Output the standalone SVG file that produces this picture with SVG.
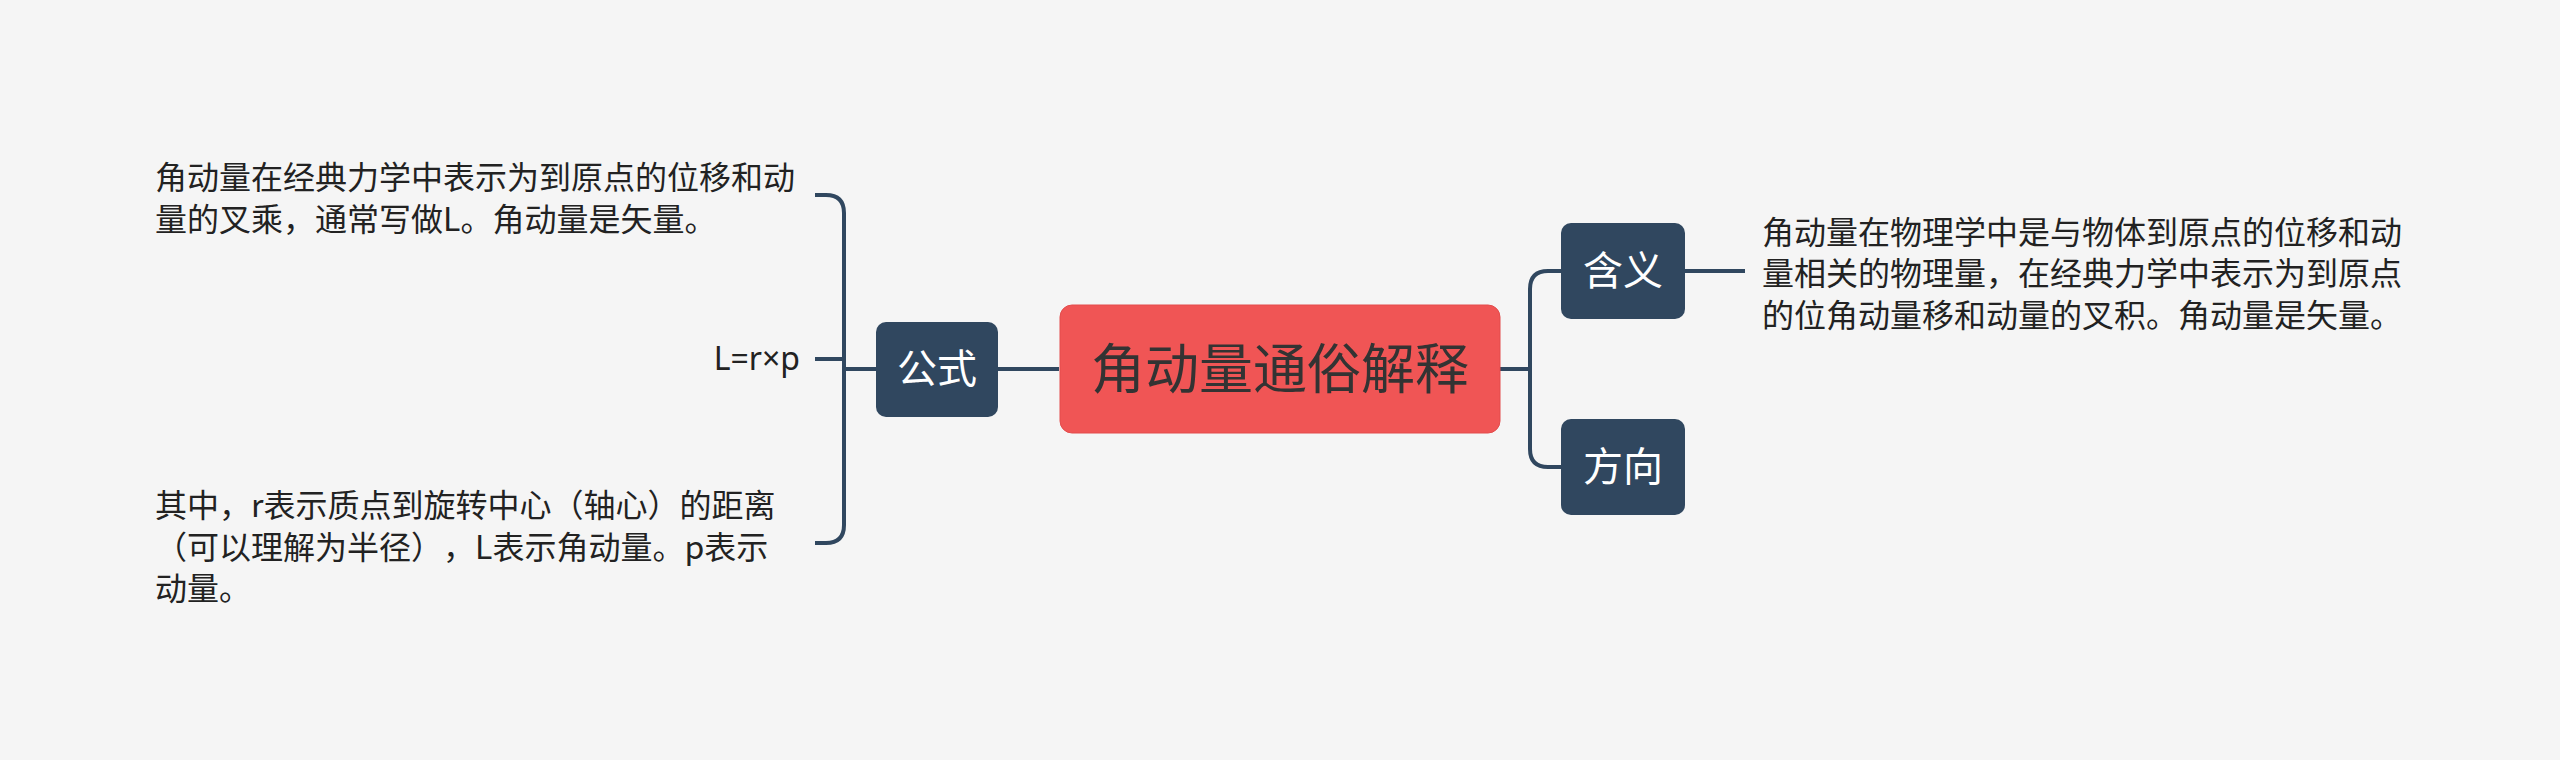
<svg xmlns="http://www.w3.org/2000/svg" width="2560" height="760" viewBox="0 0 2560 760">
<style>
.bg{fill:#f5f5f5}
.dark{fill:#30475f}
.root{fill:#f05555;stroke:#e34c4c;stroke-width:1}
.lbl{font-family:"Noto Sans CJK SC","Noto Sans",sans-serif;fill:#ffffff;font-size:40px;text-anchor:middle}
.rootlbl{font-family:"Noto Sans CJK SC","Noto Sans",sans-serif;fill:#333333;font-size:54px;text-anchor:middle}
.txt{font-family:"Noto Sans CJK SC","Noto Sans",sans-serif;fill:#222222;font-size:32px;text-spacing-trim:space-all}
.lat{font-family:"Noto Sans","Noto Sans CJK SC",sans-serif;fill:#222222;font-size:32px}
.ln{fill:none;stroke:#30475f;stroke-width:4;stroke-linecap:butt}
</style>
<rect class="bg" x="0" y="0" width="2560" height="760"/>
<g id="connectors">
<path class="ln" d="M1059 369 H998"/>
<path class="ln" d="M876 369 H844"/>
<path class="ln" d="M815 195 H826 Q844 195 844 213 V525 Q844 543 826 543 H815"/>
<path class="ln" d="M815 359 H844"/>
<path class="ln" d="M1500 369 H1530"/>
<path class="ln" d="M1561 271 H1548 Q1530 271 1530 289 V449 Q1530 467 1548 467 H1561"/>
<path class="ln" d="M1685 271 H1745"/>
</g>
<g id="root">
<rect class="root" x="1060" y="305" width="440" height="128" rx="12"/>
<text class="rootlbl" x="1280" y="389">角动量通俗解释</text>
</g>
<g id="gongshi">
<rect class="dark" x="876" y="322" width="122" height="95" rx="10"/>
<text class="lbl" x="937" y="383">公式</text>
</g>
<g id="hanyi">
<rect class="dark" x="1561" y="223" width="124" height="96" rx="10"/>
<text class="lbl" x="1623" y="285">含义</text>
</g>
<g id="fangxiang">
<rect class="dark" x="1561" y="419" width="124" height="96" rx="10"/>
<text class="lbl" x="1623" y="481">方向</text>
</g>
<g id="text-top">
<text class="txt" x="155" y="189">角动量在经典力学中表示为到原点的位移和动</text>
<text class="txt" x="155" y="231">量的叉乘，通常写做L。角动量是矢量。</text>
</g>
<g id="text-formula">
<text class="lat" x="800" y="370" text-anchor="end">L=r×p</text>
</g>
<g id="text-bottom">
<text class="txt" x="155" y="517">其中，r表示质点到旋转中心（轴心）的距离</text>
<text class="txt" x="155" y="559">（可以理解为半径），L表示角动量。p表示</text>
<text class="txt" x="155" y="600">动量。</text>
</g>
<g id="text-meaning">
<text class="txt" x="1762" y="244">角动量在物理学中是与物体到原点的位移和动</text>
<text class="txt" x="1762" y="285">量相关的物理量，在经典力学中表示为到原点</text>
<text class="txt" x="1762" y="327">的位角动量移和动量的叉积。角动量是矢量。</text>
</g>
</svg>
